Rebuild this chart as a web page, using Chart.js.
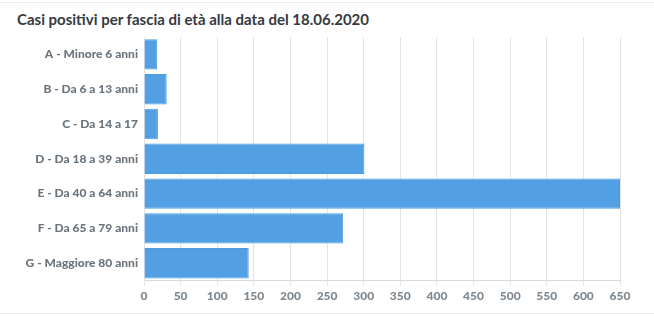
<!DOCTYPE html>
<html>
<head>
<meta charset="utf-8">
<script src="https://cdn.jsdelivr.net/npm/chart.js@4/dist/chart.umd.min.js"></script>
<style>
  html, body { margin: 0; padding: 0; background: #fff; }
  .card {
    position: absolute; left: -2px; top: 2px; width: 658px; height: 310px;
    border: 1px solid #ececec; border-radius: 4px; background: #fff;
  }
  .title {
    position: absolute; left: 17px; top: 10px;
    font-family: Lato, sans-serif; font-weight: bold; font-size: 15px; color: #343a40;
  }
  .wrap { position: absolute; left: 0; top: 0; width: 654px; height: 316px; }
</style>
</head>
<body>
<div class="card"></div>
<div class="title">Casi positivi per fascia di età alla data del 18.06.2020</div>
<div class="wrap"><canvas id="chart"></canvas></div>
<script>
// Fasce di età
var categories = ['A - Minore 6 anni', 'B - Da 6 a 13 anni', 'C - Da 14 a 17', 'D - Da 18 a 39 anni',
  'E - Da 40 a 64 anni', 'F - Da 65 a 79 anni', 'G - Maggiore 80 anni'];

// Casi positivi
var casi = [18, 31, 19, 301, 650, 272, 143];

// Asse x
var xMin = 0;
var xMax = 650;
var xStep = 50;

var ctx = document.getElementById('chart');

Chart.defaults.font.family = 'Lato';
Chart.defaults.font.size = 12;
Chart.defaults.font.weight = '900';

var config = {
  type: 'bar',
  data: {
    labels: categories,
    datasets: [{
      data: casi,
      backgroundColor: '#529fe4',
      borderColor: '#4f9be0',
      borderWidth: 1,
      barPercentage: 0.95,
      categoryPercentage: 0.92
    }]
  },
  options: {
    indexAxis: 'y',
    responsive: true,
    maintainAspectRatio: false,
    animation: false,
    layout: {
      padding: { left: 10, right: 34, top: 37, bottom: 10 }
    },
    plugins: {
      legend: { display: false },
      title: { display: false },
      tooltip: { enabled: false }
    },
    scales: {
      x: {
        min: xMin,
        max: xMax,
        ticks: {
          stepSize: xStep,
          color: '#7e8891',
          padding: 3
        },
        grid: { color: '#e4e4e4', tickLength: 5 },
        border: { color: '#d2d9e0' }
      },
      y: {
        afterFit: function (scale) { scale.width = 134; },
        ticks: {
          color: '#6c757d',
          padding: 6
        },
        grid: { display: false, drawTicks: false },
        border: { color: '#e4e4e4' }
      }
    }
  }
};

document.fonts.load('900 12px Lato').then(function () {
  new Chart(ctx, config);
});
</script>
</body>
</html>
